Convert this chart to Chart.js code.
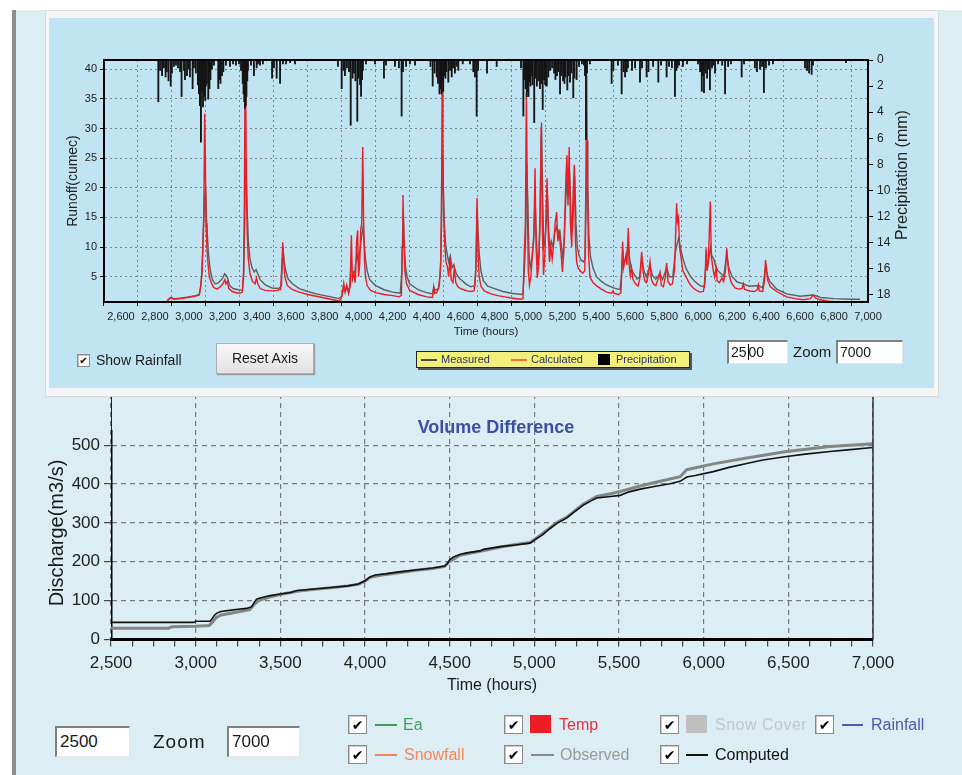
<!DOCTYPE html>
<html>
<head>
<meta charset="utf-8">
<title>Runoff and Volume Difference</title>
<script src="https://cdn.jsdelivr.net/npm/chart.js@4.4.1/dist/chart.umd.min.js"></script>
<style>
  html, body { margin: 0; padding: 0; }
  body { width: 962px; height: 775px; position: relative; overflow: hidden; background: #ffffff;
         font-family: "Liberation Sans", Arial, sans-serif; color: #1a1a1a; }
  .abs { position: absolute; }
  .chk { position: absolute; box-sizing: border-box; background: #fff; border: 1px solid #8a8a8a;
         box-shadow: inset 1px 1px 0 #c8c8c8; font-family: "DejaVu Sans", sans-serif; font-weight: bold;
         color: #000; text-align: center; }
  .box { position: absolute; box-sizing: border-box; background: #fff;
         border-top: 2px solid #808080; border-left: 2px solid #808080;
         border-bottom: 1px solid #e6e6e6; border-right: 1px solid #e6e6e6; padding-left: 2px; }
  .lbl { position: absolute; white-space: nowrap; }
  .swl { position: absolute; height: 2px; }
</style>
</head>
<body>

<!-- window chrome -->
<div class="abs" style="left:12px;top:10px;width:4px;height:765px;background:#8c8c8c"></div>
<div class="abs" style="left:16px;top:10px;width:946px;height:765px;background:#dcedf4"></div>

<!-- lower chart (its top edge sits under the upper panel) -->
<canvas id="volumeCanvas" class="abs" width="946" height="415" style="left:16px;top:360px;z-index:1"></canvas>

<!-- upper panel -->
<div class="abs" style="left:45px;top:10px;width:894px;height:387px;background:#f3f5f6;border:1px solid #d6dadd;box-sizing:border-box;z-index:2"></div>
<div class="abs" style="left:49px;top:18px;width:885px;height:370px;background:#c0e4f1;z-index:3"></div>
<canvas id="runoffCanvas" class="abs" width="885" height="370" style="left:49px;top:18px;z-index:4"></canvas>

<!-- upper panel controls -->
<div style="position:absolute;left:0;top:0;z-index:5">
  <div class="chk" style="left:77px;top:354px;width:13px;height:13px;font-size:10px;line-height:12px">✔</div>
  <div class="lbl" style="left:96px;top:351px;font-size:14px;line-height:18px">Show Rainfall</div>

  <div class="abs" style="left:216px;top:343px;width:98px;height:31px;box-sizing:border-box;border:1px solid #adadad;
       background:linear-gradient(#f8f8f8,#e1e1e1);box-shadow:1px 1px 1px #9a9a9a;font-size:14px;line-height:29px;text-align:center">Reset Axis</div>

  <div class="abs" style="left:416px;top:351px;width:274px;height:17px;box-sizing:border-box;background:#f4ef78;border:1px solid #222;box-shadow:2px 2px 0 #555"></div>
  <div class="swl" style="left:421px;top:359px;width:16px;height:2px;background:#4a4a4a"></div>
  <div class="lbl" style="left:441px;top:353px;font-size:11px;line-height:13px;color:#27356a">Measured</div>
  <div class="swl" style="left:511px;top:359px;width:16px;height:2px;background:#f0704a"></div>
  <div class="lbl" style="left:531px;top:353px;font-size:11px;line-height:13px;color:#27356a">Calculated</div>
  <div class="abs" style="left:598px;top:354px;width:12px;height:11px;background:#000"></div>
  <div class="lbl" style="left:616px;top:353px;font-size:11px;line-height:13px;color:#27356a">Precipitation</div>

  <div class="box" style="left:727px;top:340px;width:61px;height:24px;font-size:14px;line-height:21px">25<span style="border-left:1px solid #000;margin-left:1px"></span>00</div>
  <div class="lbl" style="left:793px;top:343px;font-size:15px;line-height:18px">Zoom</div>
  <div class="box" style="left:836px;top:340px;width:67px;height:24px;font-size:14px;line-height:21px">7000</div>
</div>

<!-- lower controls -->
<div style="position:absolute;left:0;top:0;z-index:5">
  <div class="box" style="left:55px;top:726px;width:75px;height:31px;font-size:17px;line-height:28px;padding-left:3px">2500</div>
  <div class="lbl" style="left:153px;top:730px;font-size:19px;line-height:24px;letter-spacing:1px">Zoom</div>
  <div class="box" style="left:227px;top:726px;width:73px;height:31px;font-size:17px;line-height:28px;padding-left:3px">7000</div>

  <div class="chk" style="left:348px;top:715px;width:19px;height:19px;font-size:14px;line-height:18px">✔</div>
  <div class="swl" style="left:375px;top:724px;width:22px;background:#3c9c5c"></div>
  <div class="lbl" style="left:403px;top:715px;font-size:16px;line-height:20px;color:#3f9e60">Ea</div>

  <div class="chk" style="left:504px;top:715px;width:19px;height:19px;font-size:14px;line-height:18px">✔</div>
  <div class="abs" style="left:530px;top:715px;width:21px;height:18px;background:#ee1c25"></div>
  <div class="lbl" style="left:559px;top:715px;font-size:16px;line-height:20px;color:#e8303c">Temp</div>

  <div class="chk" style="left:660px;top:715px;width:19px;height:19px;font-size:14px;line-height:18px">✔</div>
  <div class="abs" style="left:686px;top:715px;width:21px;height:18px;background:#c0c0c0"></div>
  <div class="lbl" style="left:715px;top:715px;font-size:16px;line-height:20px;color:#c6c6c6;letter-spacing:0.5px">Snow Cover</div>

  <div class="chk" style="left:815px;top:715px;width:19px;height:19px;font-size:14px;line-height:18px">✔</div>
  <div class="swl" style="left:842px;top:724px;width:21px;background:#4b5dad"></div>
  <div class="lbl" style="left:871px;top:715px;font-size:16px;line-height:20px;color:#4a5aaa">Rainfall</div>

  <div class="chk" style="left:348px;top:745px;width:19px;height:19px;font-size:14px;line-height:18px">✔</div>
  <div class="swl" style="left:375px;top:754px;width:22px;background:#f4855a"></div>
  <div class="lbl" style="left:404px;top:745px;font-size:16px;line-height:20px;color:#f4875a">Snowfall</div>

  <div class="chk" style="left:504px;top:745px;width:19px;height:19px;font-size:14px;line-height:18px">✔</div>
  <div class="swl" style="left:531px;top:754px;width:23px;background:#888"></div>
  <div class="lbl" style="left:560px;top:745px;font-size:16px;line-height:20px;color:#9a9a9a">Observed</div>

  <div class="chk" style="left:660px;top:745px;width:19px;height:19px;font-size:14px;line-height:18px">✔</div>
  <div class="swl" style="left:686px;top:754px;width:22px;background:#111"></div>
  <div class="lbl" style="left:715px;top:745px;font-size:16px;line-height:20px;color:#111">Computed</div>
</div>

<script>
// ---------- hydrograph data (time in hours, runoff in cumec) ----------
const calculatedRunoff = [
  [2870,0.8],[2885,1.3],[2895,1.5],[2910,1.2],[2950,1.3],[2990,1.5],[3030,1.7],[3060,1.9],
  [3068,3],[3075,5],[3082,10],[3088,16],[3093,32.5],[3097,25],[3101,14],[3106,10],[3112,7.5],
  [3120,5],[3132,4],[3145,3.2],[3165,2.9],[3185,3.3],[3200,3.8],[3212,4.5],[3218,3.8],[3226,4.2],
  [3235,3.0],[3255,2.5],[3280,2.3],[3300,2.2],[3315,2.4],[3322,6],[3327,18],[3331,40.5],[3335,34],
  [3339,20],[3344,12],[3350,8],[3360,5.5],[3375,4.2],[3390,3.8],[3398,4.8],[3405,3.9],[3420,3.0],
  [3450,2.7],[3490,2.6],[3520,2.7],[3540,2.8],[3548,7],[3553,10.8],[3558,8],[3565,5],[3580,3.5],
  [3610,2.8],[3650,2.4],[3700,2.0],[3750,1.7],[3800,1.4],[3850,1.1],[3880,0.9],[3895,1.2],
  [3905,2.5],[3912,3.9],[3920,2.4],[3930,3.6],[3940,2.2],[3950,3.5],[3957,12],[3963,4.5],
  [3972,5.5],[3980,4],[3988,11],[3994,12.8],[3999,5],[4006,7],[4012,13],[4018,14],[4024,26.9],
  [4029,15],[4034,8],[4040,5],[4050,3.5],[4070,2.7],[4100,2.3],[4150,2.0],[4200,1.8],[4240,1.6],
  [4252,1.9],[4256,10],[4261,18.8],[4266,12],[4272,6],[4282,3.8],[4300,2.7],[4350,2.0],[4400,1.6],
  [4435,1.5],[4442,3.3],[4448,2.2],[4460,2.3],[4475,3.5],[4484,8],[4489,22],[4492,39.5],[4496,28],
  [4500,16],[4506,11],[4514,7.5],[4522,6.8],[4530,5],[4538,8.2],[4545,4.5],[4555,4.0],[4563,6.3],
  [4572,4.0],[4585,3.3],[4600,3.0],[4620,2.8],[4640,2.6],[4660,2.5],[4680,2.6],[4690,6],[4697,18.3],
  [4703,9],[4710,5],[4720,3.4],[4740,2.6],[4780,2.1],[4820,1.8],[4860,1.6],[4900,1.4],[4950,1.2],
  [4968,1.3],[4975,8.6],[4982,14],[4988,36],[4993,20],[4999,6],[5006,3.6],[5014,5],[5022,8],
  [5032,12],[5039,23.3],[5045,10],[5052,4.8],[5060,7],[5068,14],[5075,30.3],[5082,13],[5089,5.3],
  [5097,9],[5104,16],[5110,21.6],[5117,12],[5124,7.5],[5132,10],[5140,8],[5150,11],[5157,14],
  [5166,15.9],[5173,11],[5180,13],[5186,10.9],[5193,8.7],[5200,5.8],[5208,9],[5215,16],[5221,22],
  [5227,25.5],[5233,17],[5240,26.9],[5247,14.2],[5255,10],[5262,18],[5270,23.9],[5277,11],
  [5284,7.5],[5292,6.5],[5305,6.0],[5320,5.6],[5332,6],[5338,20],[5343,39],[5348,20],[5354,8.7],
  [5362,5],[5380,4.0],[5400,3.5],[5430,2.9],[5460,2.4],[5490,2.2],[5498,2.6],[5505,2.2],[5530,2.0],
  [5545,2.3],[5550,7],[5555,10.9],[5560,6.5],[5567,7.5],[5574,8.6],[5580,7],[5588,13.2],[5593,7],
  [5600,5.2],[5607,6.5],[5615,4.6],[5630,3.8],[5645,3.4],[5655,4.5],[5667,9.2],[5675,5.8],
  [5685,4.3],[5695,4.0],[5705,5.2],[5716,7.5],[5724,4.6],[5735,3.8],[5750,3.5],[5762,4.5],
  [5775,5.8],[5782,3.6],[5795,3.3],[5805,4.8],[5814,7.3],[5822,4.2],[5835,3.6],[5848,3.8],
  [5860,6],[5868,13],[5873,17.4],[5878,14.3],[5884,15],[5890,10],[5897,8.6],[5910,6],[5931,4.8],
  [5950,3.8],[5971,3.1],[5990,2.7],[6010,2.4],[6030,2.5],[6040,4],[6046,9.8],[6052,6],[6060,8],
  [6066,13],[6071,17.7],[6077,8.6],[6084,7],[6089,6],[6096,5],[6105,6.5],[6112,4.3],[6125,4.0],
  [6140,4.8],[6150,4.2],[6160,6],[6168,9.8],[6175,7],[6182,5.3],[6195,4],[6217,3.1],[6240,2.9],
  [6258,3.0],[6266,3.8],[6272,2.9],[6300,2.6],[6330,2.5],[6348,2.8],[6354,3.6],[6360,2.6],
  [6380,2.5],[6391,4.5],[6396,7.8],[6402,6.5],[6410,4.3],[6425,3.3],[6462,2.5],[6521,1.6],
  [6570,1.3],[6619,1.1],[6660,1.3],[6678,1.9],[6690,1.4],[6717,1.1],[6760,0.9],[6816,0.75],[6853,0.7]
];

const measuredRunoff = [
  [2870,0.9],[2890,1.4],[2920,1.3],[2960,1.4],[3000,1.6],[3040,1.8],[3062,2.0],[3070,3.5],[3078,6],
  [3085,12],[3092,18],[3098,20],[3103,15],[3108,12.4],[3115,9],[3122,7],[3130,5.5],[3140,4.4],
  [3155,3.8],[3170,3.9],[3185,4.3],[3200,4.8],[3210,5.5],[3220,5.2],[3230,4.6],[3240,3.5],
  [3260,3.0],[3290,2.8],[3315,2.7],[3323,5],[3329,14],[3334,25],[3338,22],[3343,16.6],[3350,11],
  [3360,8],[3372,6.5],[3385,5.8],[3396,6.2],[3405,5.6],[3420,4.5],[3450,3.6],[3490,3.1],[3530,3.0],
  [3545,3.5],[3551,8],[3556,9.2],[3562,7.5],[3570,6],[3585,4.6],[3610,3.8],[3650,3.0],[3700,2.5],
  [3750,2.1],[3800,1.8],[3850,1.5],[3880,1.3],[3900,1.6],[3910,3.0],[3920,2.5],[3932,3.2],
  [3945,2.6],[3955,7],[3962,6],[3975,5.5],[3990,9],[3998,7.5],[4010,10],[4018,12],[4026,13.4],
  [4032,11],[4040,8],[4050,6],[4065,4.5],[4100,3.5],[4150,2.8],[4200,2.4],[4245,2.2],[4255,6],
  [4262,16.5],[4268,11],[4275,7],[4285,5],[4300,3.8],[4350,2.8],[4400,2.3],[4435,2.1],[4443,3.2],
  [4450,2.7],[4470,3],[4482,6],[4488,14],[4494,26],[4499,20],[4505,14],[4512,10.5],[4520,9],
  [4530,7.5],[4540,8.5],[4550,6.5],[4560,7],[4575,5.5],[4590,4.8],[4610,4.3],[4630,3.8],[4660,3.3],
  [4685,3.5],[4692,8],[4698,16.6],[4704,12],[4710,9],[4720,6],[4735,4.3],[4760,3.4],[4800,3.0],
  [4850,2.5],[4900,2.2],[4960,2.0],[4968,2.3],[4976,6],[4984,12],[4990,24],[4996,18],[5003,9],
  [5010,6.5],[5020,8],[5030,11],[5039,18],[5046,12],[5054,7],[5062,8.5],[5070,18],[5077,31],
  [5083,20],[5090,10],[5098,11],[5106,15],[5112,18.8],[5119,13],[5127,9.5],[5135,11],[5145,10],
  [5155,12.5],[5166,13.5],[5175,11.5],[5186,12.5],[5195,10],[5203,8],[5212,12],[5220,18],[5228,22],
  [5235,18.5],[5242,22.5],[5250,16],[5258,12.5],[5266,17],[5273,22],[5280,14],[5288,10],[5298,8.6],
  [5310,7.8],[5322,7.5],[5334,8],[5340,18],[5345,28],[5350,20],[5356,12],[5365,8.5],[5380,6.5],
  [5401,5.0],[5430,4.2],[5460,3.6],[5500,3.1],[5539,2.8],[5548,5],[5556,9.5],[5562,7.5],[5575,8],
  [5589,11],[5596,8],[5605,6.5],[5620,5.5],[5640,4.6],[5655,5],[5668,8],[5680,6],[5695,5],
  [5716,6.8],[5730,5.2],[5750,4.6],[5775,5.5],[5790,4.5],[5814,6.5],[5830,5],[5850,5],[5865,9],
  [5875,10.5],[5885,11.5],[5895,10],[5910,8],[5930,6.3],[5955,5],[5980,4.2],[6010,3.5],[6035,3.3],
  [6046,7.5],[6055,6.5],[6065,8.5],[6072,10],[6080,8.5],[6092,8],[6100,7],[6115,6],[6135,5.5],
  [6150,5],[6168,8.8],[6180,6.5],[6200,5],[6230,4.1],[6266,3.8],[6300,3.4],[6354,3.5],[6380,3.1],
  [6396,6.5],[6405,5.5],[6420,4.3],[6462,2.9],[6521,2.1],[6600,1.7],[6678,1.9],[6720,1.5],
  [6800,1.3],[6900,1.2],[6953,1.2]
];

// hourly precipitation totals (mm), hung from the top of the plot
const precipitation = [
  [2820,3.2],[2830,0.8],[2842,1.2],[2853,0.6],[2863,1.3],[2870,0.9],[2880,1.6],[2893,2.0],[2900,1.0],
  [2912,0.5],[2924,0.4],[2936,0.6],[2948,0.9],[2957,2.8],[2971,0.8],[2977,1.5],[2989,1.2],[3000,0.7],
  [3006,1.3],[3022,2.2],[3030,0.6],[3041,1.0],[3053,1.9],[3059,2.6],[3065,3.5],[3071,6.3],[3077,2.4],
  [3083,3.6],[3087,2.2],[3091,2.8],[3096,3.1],[3100,2.0],[3106,1.8],[3114,3.0],[3121,2.2],[3127,1.5],
  [3136,0.7],[3148,0.4],[3173,2.2],[3180,1.5],[3186,1.8],[3195,1.2],[3203,0.9],[3218,0.4],[3242,0.5],
  [3260,0.3],[3277,0.4],[3295,0.3],[3307,0.8],[3317,1.8],[3322,2.6],[3326,3.2],[3330,3.7],[3335,3.5],
  [3339,2.8],[3344,1.6],[3348,0.8],[3366,0.4],[3383,1.2],[3399,0.6],[3407,0.3],[3419,0.4],[3436,0.3],
  [3490,1.4],[3501,0.6],[3517,1.4],[3537,1.8],[3554,0.3],[3572,0.3],[3596,0.2],[3625,0.3],
  [3878,0.5],[3900,2.2],[3910,0.8],[3919,1.2],[3931,0.6],[3943,0.9],[3953,5.0],[3964,1.4],[3972,1.0],
  [3981,1.6],[3992,4.7],[3999,1.4],[4008,1.9],[4014,2.8],[4020,1.5],[4025,0.8],[4043,0.3],[4096,0.3],
  [4149,1.4],[4161,0.4],[4214,0.5],[4237,0.6],[4253,4.3],[4261,0.9],[4279,0.5],[4302,0.3],[4332,0.4],
  [4423,0.5],[4436,2.0],[4447,1.0],[4460,1.3],[4467,1.8],[4476,2.6],[4482,2.2],[4488,2.6],[4494,1.5],
  [4498,2.4],[4504,1.2],[4511,1.4],[4517,0.9],[4528,1.7],[4538,0.8],[4548,1.3],[4556,0.6],[4567,1.0],
  [4579,0.5],[4587,0.8],[4613,0.3],[4656,0.3],[4675,0.9],[4685,1.3],[4695,4.3],[4703,0.8],[4756,1.0],
  [4813,0.5],
  [4956,0.6],[4970,4.3],[4977,1.5],[4983,2.2],[4990,2.8],[4994,2.4],[5000,2.8],[5006,1.7],[5012,2.0],
  [5018,1.2],[5024,1.9],[5034,4.8],[5041,1.4],[5050,2.0],[5059,1.6],[5068,2.2],[5075,1.8],[5084,3.8],
  [5092,1.5],[5098,1.9],[5108,2.0],[5117,1.3],[5127,0.8],[5139,0.6],[5151,1.0],[5159,1.5],[5168,1.2],
  [5176,0.9],[5186,2.6],[5195,1.2],[5204,1.6],[5212,1.8],[5218,1.3],[5229,2.3],[5236,1.2],[5245,1.7],
  [5253,1.0],[5264,2.9],[5271,1.4],[5284,1.5],[5298,0.5],[5315,0.3],[5327,0.4],[5333,1.2],[5339,6.1],
  [5345,1.0],[5362,0.3],
  [5490,1.8],[5500,0.8],[5527,0.4],[5549,2.6],[5560,0.9],[5569,1.3],[5579,0.9],[5586,0.6],[5610,0.8],
  [5628,0.6],[5657,1.7],[5669,0.6],[5696,1.3],[5707,0.9],[5734,0.5],[5765,1.7],[5781,0.4],[5814,1.3],
  [5828,0.5],[5845,0.6],[5863,2.8],[5871,0.8],[5878,0.6],[5887,0.4],[5910,0.5],[5934,0.3],
  [5999,0.3],[6011,0.9],[6021,2.4],[6028,1.2],[6034,2.5],[6043,1.0],[6052,1.4],[6061,0.7],[6069,2.3],
  [6081,0.6],[6089,0.4],[6099,1.0],[6117,0.3],[6141,0.4],[6158,2.6],[6176,0.5],[6193,0.3],[6256,1.3],
  [6270,0.3],[6334,0.6],[6346,0.9],[6364,0.7],[6376,0.5],[6387,2.5],[6399,0.6],[6417,0.4],[6440,0.3],
  [6629,0.6],[6641,0.8],[6653,1.0],[6668,1.1],[6676,0.4],[6870,0.2]
];

// ---------- cumulative volume data (m3/s) ----------
const observedVolume = [
  [2500,29],[2840,29],[2860,33],[3000,34],[3080,36],[3100,45],[3120,56],[3150,63],[3200,67],[3260,72],
  [3320,77],[3345,90],[3370,100],[3440,110],[3500,116],[3600,124],[3700,129],[3800,133],[3900,138],
  [3960,142],[4000,150],[4030,160],[4100,166],[4200,172],[4300,178],[4400,183],[4470,188],[4500,201],
  [4560,217],[4680,227],[4800,238],[4900,245],[4975,250],[5005,259],[5050,273],[5133,301],[5192,315],
  [5290,349],[5369,368],[5450,375],[5507,381],[5625,395],[5750,408],[5861,419],[5900,437],[6057,452],
  [6254,467],[6490,484],[6746,497],[7000,504]
];

const computedVolume = [
  [2500,44],[2990,44],[3000,47],[3085,47],[3095,52],[3110,62],[3125,68],[3150,72],[3200,75],[3250,78],
  [3300,80],[3330,84],[3345,95],[3360,104],[3380,107],[3440,113],[3500,117],[3560,121],[3600,126],
  [3700,130],[3800,134],[3900,138],[3960,143],[4000,151],[4030,161],[4060,166],[4120,169],[4200,174],
  [4300,179],[4400,184],[4470,189],[4485,195],[4500,205],[4520,212],[4560,219],[4600,223],[4680,228],
  [4700,232],[4800,239],[4900,244],[4975,248],[5005,257],[5050,270],[5090,285],[5133,299],[5192,313],
  [5240,330],[5290,346],[5340,358],[5369,364],[5450,368],[5507,371],[5560,380],[5625,387],[5700,393],
  [5800,401],[5861,407],[5900,418],[5950,422],[6057,432],[6150,443],[6254,453],[6350,462],[6490,471],
  [6600,477],[6746,484],[6850,488],[7000,494]
];

// vertical rise at the start of the record
const startRise = [[2500,0],[2500,540]];

// ---------- tick labels ----------
const runoffTimeTicks = [2600,2800,3000,3200,3400,3600,3800,4000,4200,4400,4600,4800,5000,5200,5400,5600,5800,6000,6200,6400,6600,6800,7000];
const runoffTicks = [5,10,15,20,25,30,35,40];
const precipTicks = [0,2,4,6,8,10,12,14,16,18];
const volumeTimeTicks = [2500,3000,3500,4000,4500,5000,5500,6000,6500,7000];
const volumeTicks = [0,100,200,300,400,500];

const toPoints = rows => rows.map(([x, y]) => ({x, y}));
const fmt = v => Number(v).toLocaleString('en-US');
const FONT = '"Liberation Sans", Arial, sans-serif';

// frame lines around the plot area
const plotFrame = {
  id: 'plotFrame',
  afterDraw(chart, args, opts) {
    const {ctx, chartArea: a} = chart;
    ctx.save();
    ctx.strokeStyle = opts.color || '#000';
    ctx.lineWidth = opts.width || 1;
    ctx.beginPath();
    (opts.sides || []).forEach(s => {
      if (s === 'top') { ctx.moveTo(a.left, a.top); ctx.lineTo(a.right, a.top); }
      if (s === 'right') { ctx.moveTo(a.right, a.top); ctx.lineTo(a.right, a.bottom); }
      if (s === 'left') { ctx.moveTo(a.left, a.top); ctx.lineTo(a.left, a.bottom); }
      if (s === 'bottom') { ctx.moveTo(a.left, a.bottom); ctx.lineTo(a.right, a.bottom); }
    });
    ctx.stroke();
    ctx.restore();
  }
};

// free-standing captions (rotated axis names, in-plot heading)
const captions = {
  id: 'captions',
  afterDraw(chart, args, opts) {
    const ctx = chart.ctx;
    (opts.items || []).forEach(it => {
      ctx.save();
      ctx.translate(it.x, it.y);
      ctx.rotate(it.rotate || 0);
      ctx.font = it.font;
      ctx.fillStyle = it.color;
      ctx.textAlign = 'center';
      ctx.textBaseline = 'middle';
      ctx.fillText(it.text, 0, 0);
      ctx.restore();
    });
  }
};

// ---------- upper chart: runoff with precipitation ----------
new Chart(document.getElementById('runoffCanvas'), {
  type: 'line',
  data: {
    datasets: [
      { label: 'Precipitation', type: 'bar', data: toPoints(precipitation), yAxisID: 'yP',
        backgroundColor: '#151515', borderWidth: 0, barThickness: 1.2, order: 0 },
      { label: 'Calculated', data: toPoints(calculatedRunoff), yAxisID: 'yQ',
        borderColor: '#ec1c24', borderWidth: 1.4, pointRadius: 0, tension: 0, order: 1 },
      { label: 'Measured', data: toPoints(measuredRunoff), yAxisID: 'yQ',
        borderColor: '#5e5e5e', borderWidth: 1.4, pointRadius: 0, tension: 0, order: 2 }
    ]
  },
  options: {
    responsive: false, animation: false, devicePixelRatio: 1,
    layout: { padding: { top: 42, bottom: 46, left: 0, right: 0 } },
    plugins: {
      legend: { display: false }, tooltip: { enabled: false },
      plotFrame: { sides: ['top', 'right', 'left', 'bottom'], color: '#000', width: 2 },
      captions: { items: [
        { text: 'Precipitation (mm)', x: 854, y: 157, rotate: -Math.PI / 2, font: '16px ' + FONT, color: '#222' }
      ] }
    },
    scales: {
      x: {
        type: 'linear', min: 2500, max: 7000, offset: false,
        afterBuildTicks: s => { s.ticks = runoffTimeTicks.map(v => ({value: v})); },
        afterFit: s => { s.height = 40; },
        ticks: { callback: fmt, autoSkip: false, maxRotation: 0, padding: 4, color: '#222', font: { family: FONT, size: 11 } },
        grid: { color: '#7b868b', lineWidth: 1, tickLength: 4, tickColor: '#000' },
        border: { display: true, color: '#000', width: 2, dash: [2, 3] },
        title: { display: true, text: 'Time (hours)', color: '#222', font: { family: FONT, size: 11.5 }, padding: { top: 0, bottom: 3.4 } }
      },
      yQ: {
        position: 'left', min: 0.73, max: 41.57,
        afterBuildTicks: s => { s.ticks = runoffTicks.map(v => ({value: v})); },
        afterFit: s => { s.width = 55; },
        ticks: { padding: 3, color: '#222', font: { family: FONT, size: 11 } },
        grid: { color: '#7b868b', lineWidth: 1, tickLength: 4, tickColor: '#000' },
        border: { display: true, color: '#000', width: 2, dash: [2, 3] },
        title: { display: true, text: 'Runoff(cumec)', color: '#222', font: { family: FONT, size: 14 }, padding: { top: 16 } }
      },
      yP: {
        position: 'right', reverse: true, min: 0, max: 18.55,
        afterBuildTicks: s => { s.ticks = precipTicks.map(v => ({value: v})); },
        afterFit: s => { s.width = 66; },
        ticks: { padding: 4, color: '#222', font: { family: FONT, size: 12 } },
        grid: { drawOnChartArea: false, tickLength: 5, tickColor: '#000' },
        border: { display: true, color: '#000', width: 2 }
      }
    }
  },
  plugins: [plotFrame, captions]
});

// ---------- lower chart: cumulative volume ----------
const volumeMinorTicks = [];
for (let t = volumeTimeTicks[0]; t <= volumeTimeTicks[volumeTimeTicks.length - 1]; t += 125) volumeMinorTicks.push(t);

new Chart(document.getElementById('volumeCanvas'), {
  type: 'line',
  data: {
    datasets: [
      { label: 'Computed', data: toPoints(computedVolume), borderColor: '#111111', borderWidth: 1.6,
        pointRadius: 0, tension: 0, order: 0 },
      { label: 'Observed', data: toPoints(observedVolume), borderColor: '#858585', borderWidth: 3,
        pointRadius: 0, tension: 0, order: 1 },
      { label: 'Start', data: toPoints(startRise), borderColor: '#000', borderWidth: 3,
        pointRadius: 0, order: 2 }
    ]
  },
  options: {
    responsive: false, animation: false, devicePixelRatio: 1,
    layout: { padding: { top: 25, bottom: 75.5, left: 0, right: 89 } },
    plugins: {
      legend: { display: false }, tooltip: { enabled: false },
      plotFrame: { sides: ['right'], color: '#333', width: 1.5 },
      captions: { items: [
        { text: 'Volume Difference', x: 480, y: 68, font: 'bold 18px ' + FONT, color: '#3d4ea6' },
        { text: 'Discharge(m3/s)', x: 41, y: 173, rotate: -Math.PI / 2, font: '20px ' + FONT, color: '#1a1a1a' }
      ] }
    },
    scales: {
      x: {
        type: 'linear', min: 2500, max: 7000, offset: false,
        afterBuildTicks: s => { s.ticks = volumeMinorTicks.map(v => ({value: v})); },
        afterFit: s => { s.height = 60; },
        ticks: {
          autoSkip: false, maxRotation: 0, padding: 7, color: '#1e1e1e', font: { family: FONT, size: 17 },
          callback: v => volumeTimeTicks.includes(v) ? fmt(v) : ''
        },
        grid: {
          color: c => (c.tick && volumeTimeTicks.includes(c.tick.value)) ? '#7a7a7a' : 'rgba(0,0,0,0)',
          lineWidth: 1.2, tickLength: 7, tickColor: '#444'
        },
        border: { display: true, color: '#000', width: 3, dash: [5, 4] },
        title: { display: true, text: 'Time (hours)', color: '#1a1a1a', font: { family: FONT, size: 16 }, padding: { top: 0, bottom: 4 } }
      },
      y: {
        min: 0, max: 655,
        afterBuildTicks: s => { s.ticks = volumeTicks.map(v => ({value: v})); },
        afterFit: s => { s.width = 95; },
        ticks: { padding: 4, color: '#1e1e1e', font: { family: FONT, size: 17 } },
        grid: { color: '#7a7a7a', lineWidth: 1.2, tickLength: 7, tickColor: '#444' },
        border: { display: true, color: '#222', width: 1, dash: [5, 4] }
      }
    }
  },
  plugins: [plotFrame, captions]
});
</script>
</body>
</html>
